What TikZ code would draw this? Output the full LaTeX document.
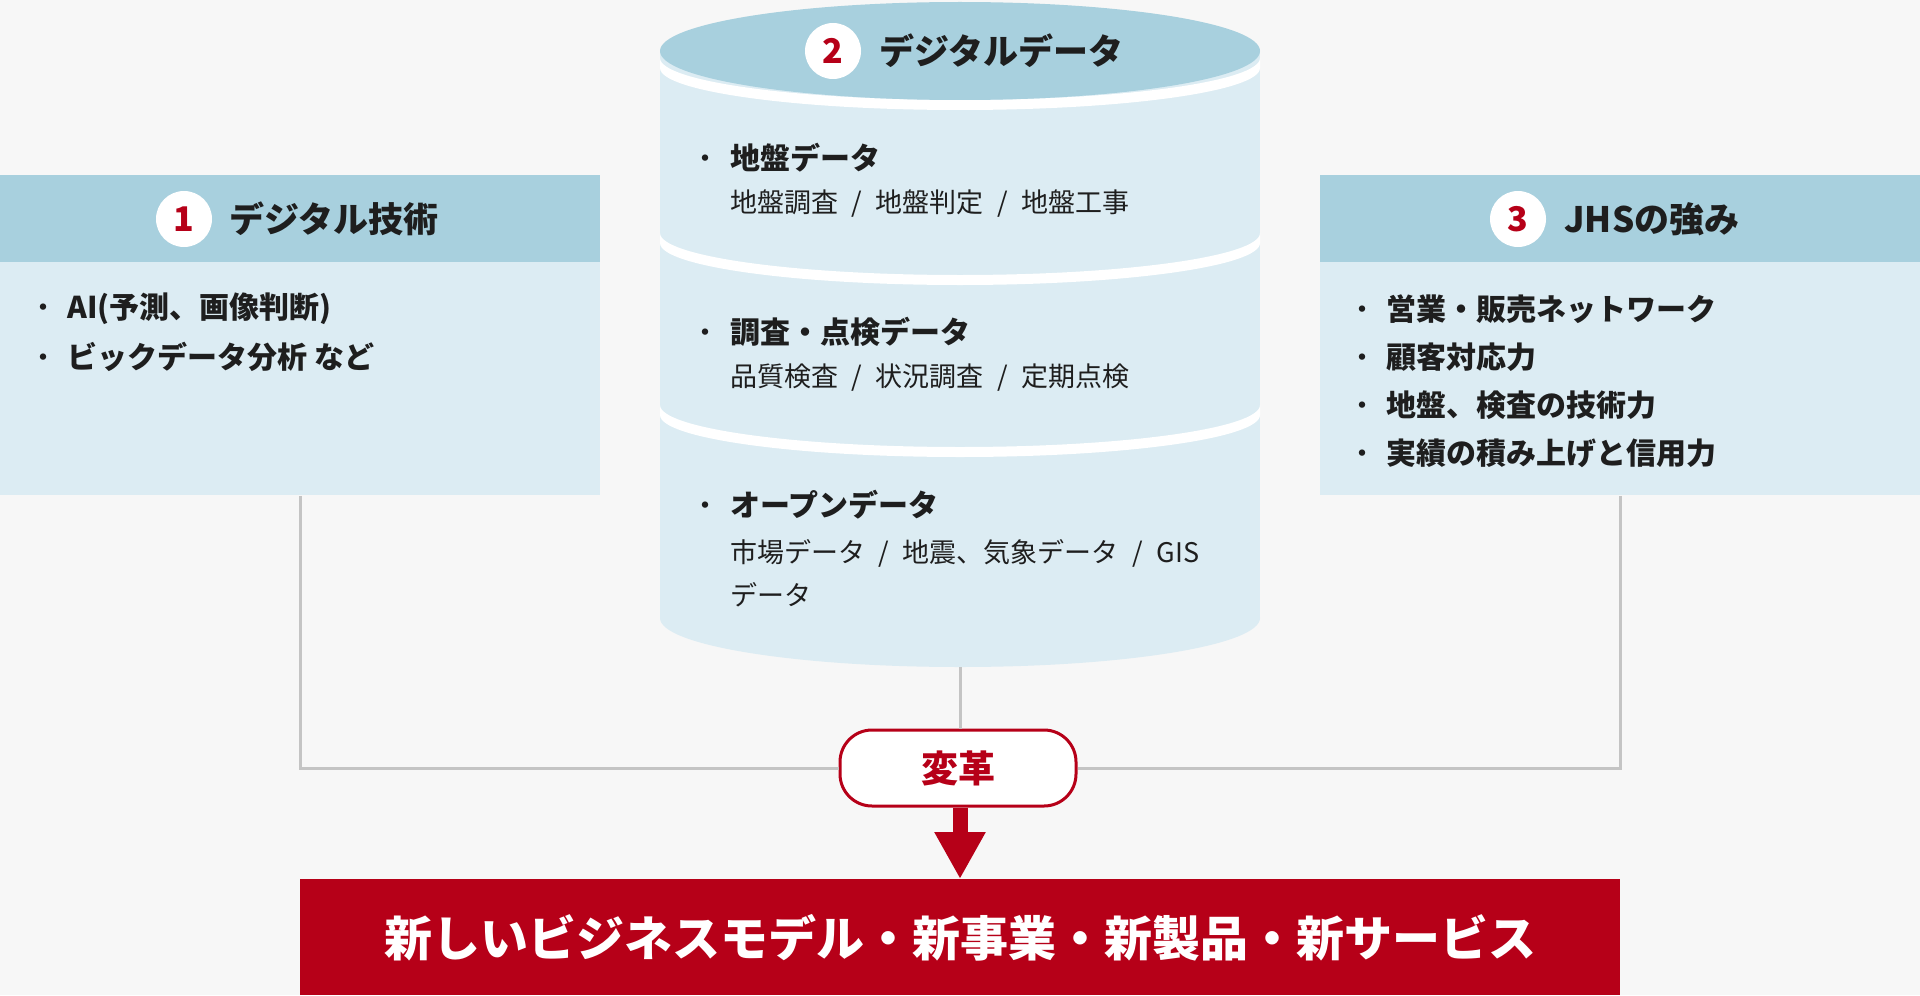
\documentclass[tikz,border=0pt]{standalone}
\usepackage{fontspec}
\setmainfont{Noto Sans CJK JP}
\usetikzlibrary{arrows.meta}
\definecolor{bg}{HTML}{F7F7F7}
\definecolor{headblue}{HTML}{A8D0DE}
\definecolor{bodyblue}{HTML}{DCECF3}
\definecolor{jred}{HTML}{B60018}
\definecolor{lgray}{HTML}{C4C4C4}
\definecolor{txt}{HTML}{1E1E1E}
\tikzset{
  panelbody/.style={fill=bodyblue, inner sep=0, minimum width=300pt, minimum height=160pt, anchor=north west},
  panelhead/.style={fill=headblue, inner sep=0, minimum width=300pt, minimum height=43.5pt, anchor=north west},
  numcirc/.style={circle, fill=white, inner sep=0, minimum size=28pt, text=jred, font=\bfseries\fontsize{17pt}{17pt}\selectfont},
  ttl/.style={anchor=west, inner sep=0, text=txt, font=\bfseries\fontsize{17.5pt}{21pt}\selectfont},
  itm/.style={anchor=west, inner sep=0, text=txt, font=\bfseries\fontsize{15pt}{18pt}\selectfont},
  subtxt/.style={anchor=west, inner sep=0, text=txt, align=left, font=\fontsize{13.5pt}{21.5pt}\selectfont},
  conn/.style={draw=lgray, line width=1.5pt},
  kkbox/.style={draw=jred, line width=1.5pt, fill=white, rounded corners=16pt, minimum width=118pt, minimum height=38pt, inner sep=0, text=jred, font=\bfseries\fontsize{18.5pt}{18.5pt}\selectfont},
  goalbox/.style={fill=jred, inner sep=0, minimum width=660pt, minimum height=58pt, anchor=north, text=white, font=\bfseries\fontsize{24pt}{24pt}\selectfont},
  band/.style={fill=white}
}
\newcommand{\slsep}{\enspace/\enspace}
\newcommand{\bul}{{\mdseries ・}}
\begin{document}
\begin{tikzpicture}[x=0.5pt,y=-0.5pt]
\useasboundingbox (0,0) rectangle (1920,995);
\fill[bg] (0,0) rectangle (1920,995);

% ---- cylinder ----
\fill[bodyblue] (660,51) rectangle (1260,618);
\fill[bodyblue] (960,618) ellipse [x radius=300, y radius=49];
\fill[band] (660,58) arc[start angle=180, end angle=0, x radius=300, y radius=42]
   -- (1260,68) arc[start angle=0, end angle=180, x radius=300, y radius=42] -- cycle;
\fill[band] (660,233) arc[start angle=180, end angle=0, x radius=300, y radius=42]
   -- (1260,243) arc[start angle=0, end angle=180, x radius=300, y radius=42] -- cycle;
\fill[band] (660,405) arc[start angle=180, end angle=0, x radius=300, y radius=42]
   -- (1260,415) arc[start angle=0, end angle=180, x radius=300, y radius=42] -- cycle;
\fill[headblue] (960,51) ellipse [x radius=300, y radius=49];
\coordinate (cylbot) at (960,667);

\node[numcirc] (n2) at (833,51) {2};
\node[ttl] (t2) at (879,51) {デジタルデータ};

\node[itm] (c1) at (690,158) {\bul\kern5pt 地盤データ};
\node[subtxt] (c1s) at (730,204) {地盤調査\slsep 地盤判定\slsep 地盤工事};
\node[itm] (c2) at (690,332) {\bul\kern5pt 調査・点検データ};
\node[subtxt] (c2s) at (730,378) {品質検査\slsep 状況調査\slsep 定期点検};
\node[itm] (c3) at (690,505) {\bul\kern5pt オープンデータ};
\node[subtxt] (c3s) at (730,573.5) {市場データ\slsep 地震、気象データ\slsep GIS\\データ};

% ---- left panel ----
\node[panelbody] (lpanel) at (0,175) {};
\node[panelhead] (lhead) at (0,175) {};
\node[numcirc] (n1) at (184,219) {1};
\node[ttl] (t1) at (229,219) {デジタル技術};
\node[itm] (l1) at (28,309) {\bul\kern4.5pt AI(予測、画像判断)};
\node[itm] (l2) at (28,357) {\bul\kern4.5pt ビックデータ分析 など};

% ---- right panel ----
\node[panelbody] (rpanel) at (1320,175) {};
\node[panelhead] (rhead) at (1320,175) {};
\node[numcirc] (n3) at (1518,219) {3};
\node[ttl] (t3) at (1564,219) {JHSの強み};
\node[itm] (r1) at (1347,309) {\bul\kern4.5pt 営業・販売ネットワーク};
\node[itm] (r2) at (1347,357) {\bul\kern4.5pt 顧客対応力};
\node[itm] (r3) at (1347,405) {\bul\kern4.5pt 地盤、検査の技術力};
\node[itm] (r4) at (1347,453) {\bul\kern4.5pt 実績の積み上げと信用力};

% ---- change node and result ----
\node[kkbox] (kk) at (958,768) {変革};
\node[goalbox] (goal) at (960,879) {新しいビジネスモデル・新事業・新製品・新サービス};

\draw[conn] (lpanel.south) |- (kk.west);
\draw[conn] (rpanel.south) |- (kk.east);
\draw[conn] (cylbot) -- (cylbot |- kk.north);

\draw[jred, line width=7.5pt, -{Triangle[width=24pt, length=23.5pt]}] (kk.south -| goal.north) -- (goal.north);
\end{tikzpicture}
\end{document}
